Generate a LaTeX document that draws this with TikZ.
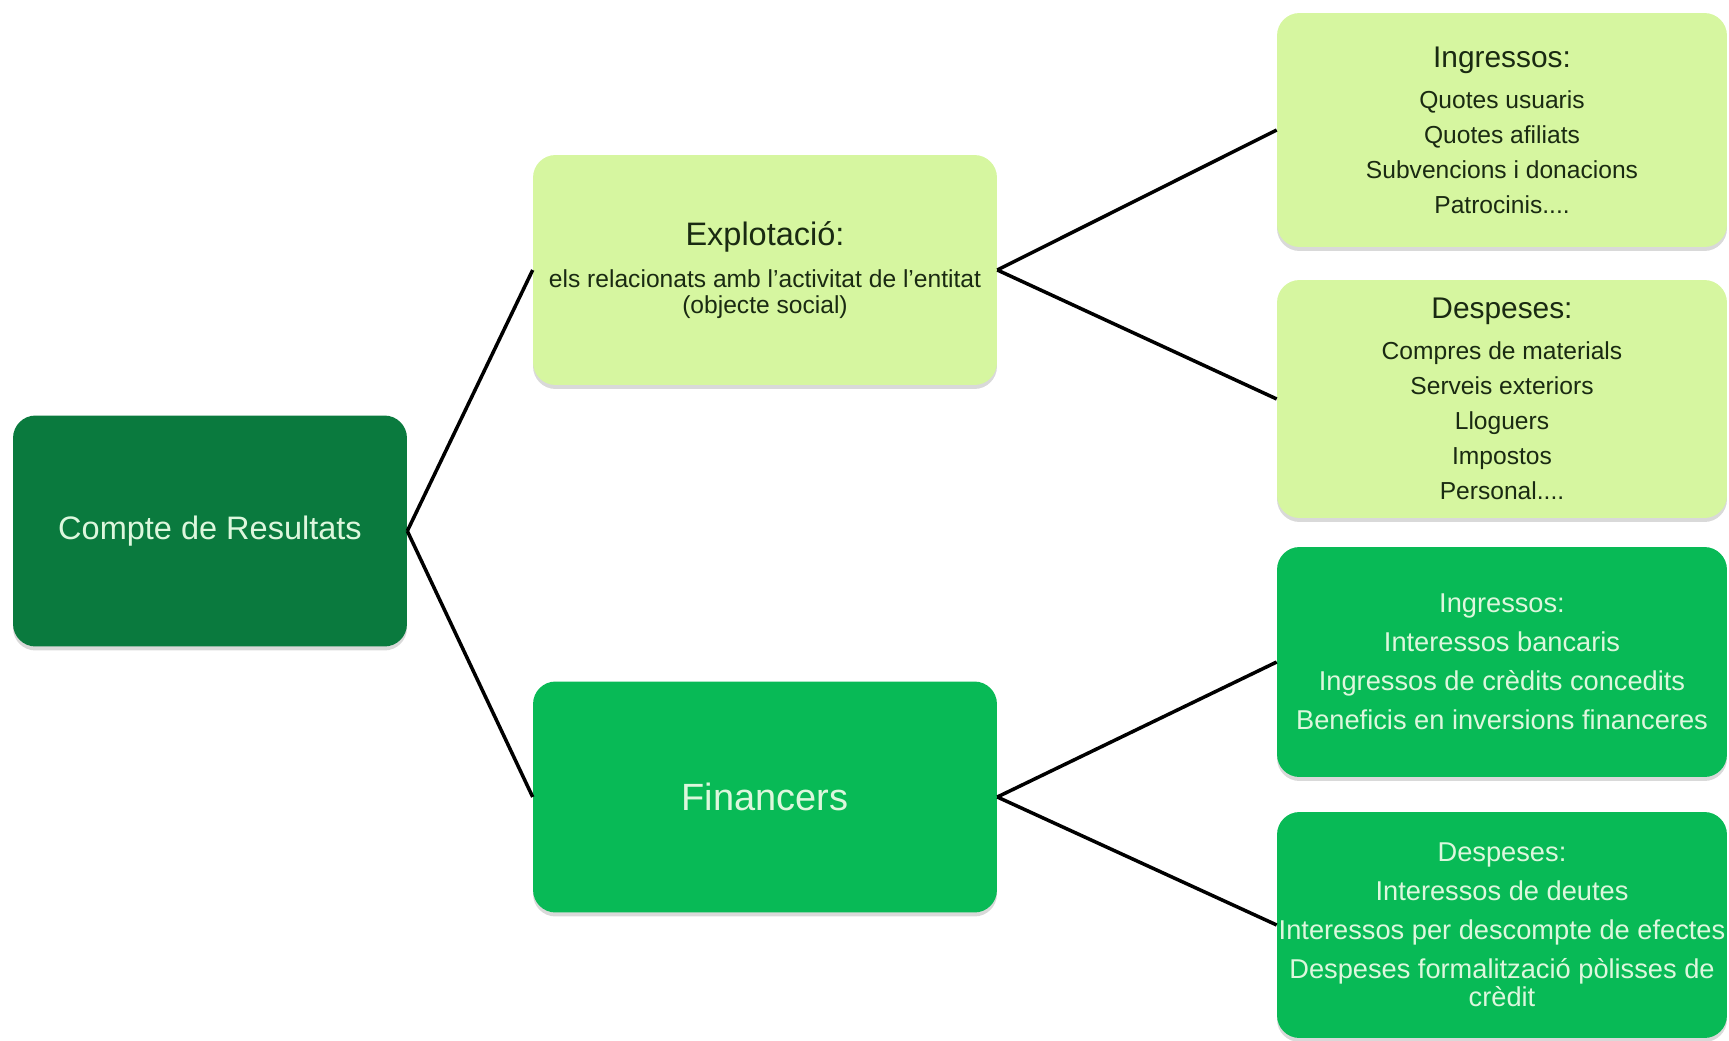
\documentclass[tikz,border=0pt]{standalone}
\usepackage{fontspec}
\setmainfont{Liberation Sans}
\usetikzlibrary{shadows}

\definecolor{darkgr}{HTML}{0A7A3E}
\definecolor{midgr}{HTML}{08BA56}
\definecolor{lightgr}{HTML}{D6F6A0}
\definecolor{mint}{HTML}{DDF7DD}
\definecolor{inkgr}{HTML}{1A2A12}

\begin{document}
\begin{tikzpicture}[
    x=0.02cm,
    y=-0.02cm,
    box/.style={
        rounded corners=0.45cm,
        align=center,
        inner sep=0pt,
        drop shadow={opacity=0.3, shadow xshift=0pt, shadow yshift=-0.08cm}
    },
    pale/.style={
        box,
        fill=lightgr,
        text=inkgr,
        minimum width=9cm
    },
    deep/.style={
        box,
        fill=midgr,
        text=mint,
        minimum width=9cm,
        font=\fontsize{15.5}{22.2}\selectfont
    },
    link/.style={
        line width=2pt,
        black
    }
]
    \useasboundingbox (0,0) rectangle (1729,1041);

    % Root
    \node[box, fill=darkgr, text=mint, minimum width=7.88cm, minimum height=4.62cm,
          font=\fontsize{18.5}{22}\selectfont] (compte) at (210,531) {Compte de Resultats};

    % Two kinds of results
    \node[pale, minimum width=9.28cm, minimum height=4.6cm,
          font=\fontsize{14}{14.8}\selectfont] (explot) at (765,270)
        {{\fontsize{18.5}{22}\selectfont Explotació:}\\[9pt]
         els relacionats amb l’activitat de l’entitat\\(objecte social)};
    \node[deep, minimum width=9.28cm, minimum height=4.62cm,
          font=\fontsize{21.6}{24}\selectfont] (financ) at (765,797) {Financers};

    % Details of each one
    \node[pale, minimum height=4.68cm, font=\fontsize{14}{19.9}\selectfont] (ingexp) at (1502,130)
        {{\fontsize{17}{20}\selectfont Ingressos:}\\[3.4pt]
         Quotes usuaris\\Quotes afiliats\\Subvencions i donacions\\Patrocinis....};
    \node[pale, minimum height=4.76cm, font=\fontsize{14}{19.9}\selectfont] (despexp) at (1502,399)
        {{\fontsize{17}{20}\selectfont Despeses:}\\[3.4pt]
         Compres de materials\\Serveis exteriors\\Lloguers\\Impostos\\Personal....};
    \node[deep, minimum height=4.6cm] (ingfin) at (1502,662)
        {Ingressos:\\Interessos bancaris\\Ingressos de crèdits concedits\\Beneficis en inversions financeres};
    \node[deep, minimum height=4.52cm] (despfin) at (1502,925)
        {Despeses:\\Interessos de deutes\\\makebox[9cm]{Interessos per descompte de efectes}\\
         Despeses formalització pòlisses de\\[-6.3pt]crèdit};

    % Connecting lines
    \draw[link] (compte.east) -- (explot.west);
    \draw[link] (compte.east) -- (financ.west);
    \draw[link] (explot.east) -- (ingexp.west);
    \draw[link] (explot.east) -- (despexp.west);
    \draw[link] (financ.east) -- (ingfin.west);
    \draw[link] (financ.east) -- (despfin.west);
\end{tikzpicture}
\end{document}
